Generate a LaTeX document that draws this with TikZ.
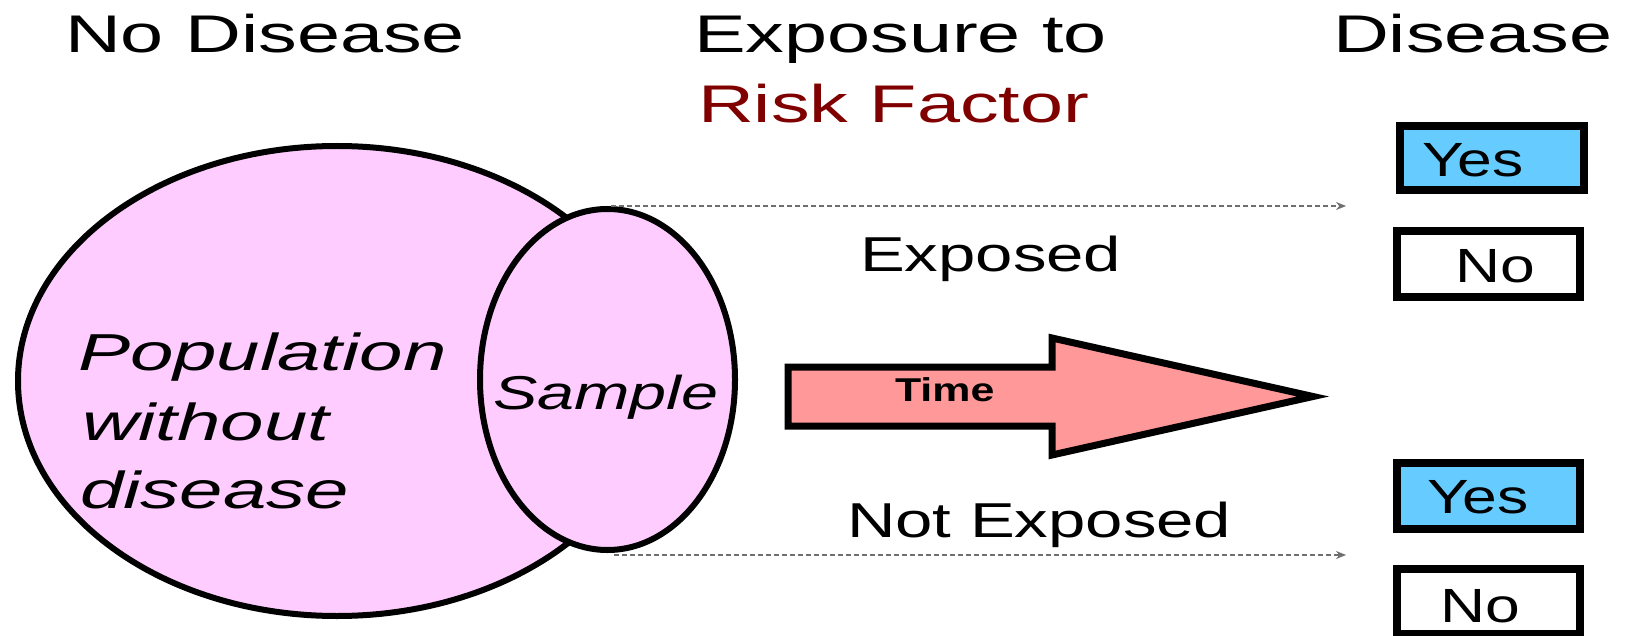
\documentclass[tikz,border=0pt]{standalone}
\usepackage{fontspec}
\setmainfont{Liberation Sans}
% widened Arial-metric faces for the different label groups
\newfontfamily\headfont[FakeStretch=1.46]{Liberation Sans}
\newfontfamily\groupfont[FakeStretch=1.37]{Liberation Sans}
\newfontfamily\popfont[FakeStretch=1.5]{Liberation Sans}
\newfontfamily\samplefont[FakeStretch=1.4]{Liberation Sans}
\newfontfamily\boxfont[FakeStretch=1.3]{Liberation Sans}
\usetikzlibrary{shapes.geometric,arrows.meta}
\definecolor{popfill}{HTML}{FFCCFF}
\definecolor{yesfill}{HTML}{66CCFF}
\definecolor{timefill}{HTML}{FF9999}
\definecolor{riskred}{HTML}{800000}
\definecolor{dashgray}{HTML}{6F6F6F}

\begin{document}
\begin{tikzpicture}[x=1pt,y=-1pt,
  lbl/.style={inner sep=0pt, outer sep=0pt, anchor=base west},
  heading/.style={lbl, font=\headfont\fontsize{53}{60}\selectfont},
  grouplbl/.style={lbl, font=\groupfont\fontsize{49}{56}\selectfont},
  poplbl/.style={lbl, font=\popfont\itshape\fontsize{52}{60}\selectfont},
  samplelbl/.style={lbl, font=\samplefont\itshape\fontsize{47.5}{54}\selectfont},
  answerlbl/.style={lbl, font=\boxfont\fontsize{48}{54}\selectfont},
  timelbl/.style={lbl, font=\boxfont\bfseries\fontsize{33}{38}\selectfont},
  blob/.style={ellipse, draw=black, line width=6pt, fill=popfill, inner sep=0pt},
  answer/.style={rectangle, draw=black, line width=8pt, inner sep=0pt,
    minimum width=183pt, minimum height=66pt},
  follow/.style={dashgray, line width=1.5pt, dash pattern=on 5pt off 3pt,
    -{Stealth[length=10pt,width=8pt]}},
]
\useasboundingbox[fill=white] (0,0) rectangle (1629,636);

% column headings
\node[heading] (hNo) at (65,53) {No Disease};
\node[heading] (hExp) at (694,53) {Exposure to};
\node[heading, text=riskred] (hRisk) at (698,123) {Risk Factor};
\node[heading] (hDis) at (1333,53) {Disease};

% population and sample
\node[blob, minimum width=638pt, minimum height=470pt] (pop) at (337,381) {};
\node[blob, minimum width=255pt, minimum height=341pt] (sample) at (607.5,379.5) {};

\node[poplbl] (popA) at (78,370) {Population};
\node[poplbl] (popB) at (82,440) {without};
\node[poplbl] (popC) at (80,508) {disease};
\node[samplelbl] (sampleTxt) at (493,409) {Sample};

% follow-up lines
\coordinate (topStart) at (611,206);
\coordinate (topEnd) at (1346,206);
\coordinate (botStart) at (614,555);
\coordinate (botEnd) at (1346,555);
\draw[follow] (topStart) -- (topEnd);
\draw[follow] (botStart) -- (botEnd);

\node[grouplbl] (exposed) at (860,272) {Exposed};
\node[grouplbl] (notExposed) at (847,537) {Not Exposed};

% time arrow
\draw[line width=7pt, fill=timefill, line join=miter]
  (788,367) -- (1052,367) -- (1052,338) -- (1313,396.5)
  -- (1052,455) -- (1052,426) -- (788,426) -- cycle;
\node[timelbl] (timeTxt) at (895,401) {Time};

% outcome boxes
\node[answer, fill=yesfill, minimum width=184pt, minimum height=64pt] (yes1) at (1492,158) {};
\node[answer, fill=white] (no1) at (1488.5,264) {};
\node[answer, fill=yesfill] (yes2) at (1488.5,496) {};
\node[answer, fill=white, minimum height=65pt] (no2) at (1488.5,601.5) {};
\node[answerlbl] (yes1Txt) at (1422,177) {Yes};
\node[answerlbl] (no1Txt) at (1455,283) {No};
\node[answerlbl] (yes2Txt) at (1427,513) {Yes};
\node[answerlbl] (no2Txt) at (1440,622) {No};
\end{tikzpicture}
\end{document}
